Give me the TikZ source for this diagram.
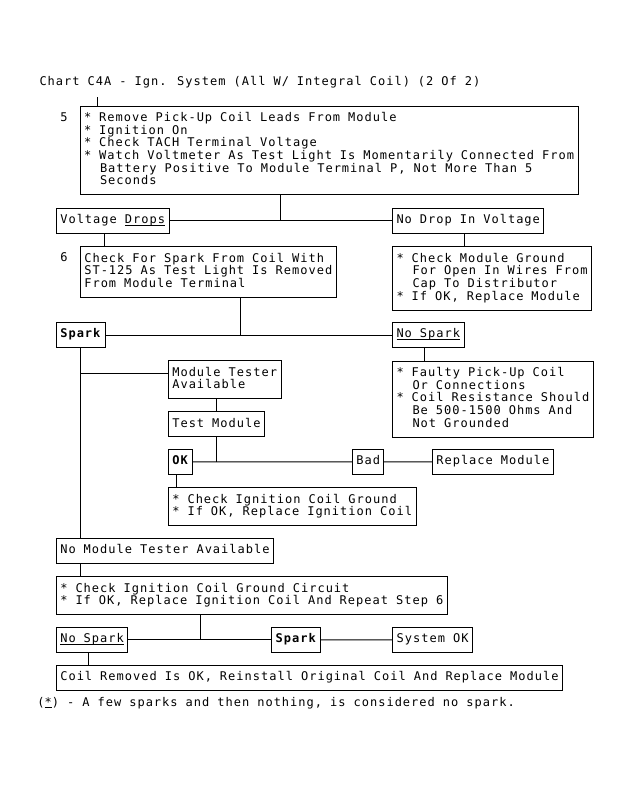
\documentclass[tikz,border=0pt]{standalone}
\usepackage{fontspec}
\newfontfamily\chartmono[LetterSpace=8.4]{DejaVu Sans Mono}
\newcommand{\chartfont}{\chartmono\fontsize{12}{12.7}\selectfont\spaceskip=8pt\relax}
\newcommand{\ind}{\hspace*{16pt}}
\newcommand{\chartul}[1]{\setbox0\hbox{#1}\rlap{\rule[-1.8pt]{\wd0}{0.8pt}}\box0}
\tikzset{box/.style={draw,rectangle,anchor=north west,align=left,inner xsep=4pt,inner ysep=6.15pt,outer sep=0pt,
  execute at begin node=\strut,execute at end node=\strut}}
\tikzset{lbl/.style={anchor=base west,inner sep=0pt}}
\begin{document}
\begin{tikzpicture}[x=1pt,y=-1pt,line width=1pt,font=\chartfont]
  \useasboundingbox (0,0) rectangle (631,785);
  \node[lbl] (title) at (39,85) {Chart C4A - Ign. System (All W/ Integral Coil) (2 Of 2)};
  \node[lbl,anchor=base] (n5) at (64,121) {5};
  \node[box] (box5) at (80,106) {* Remove Pick-Up Coil Leads From Module\\
    * Ignition On\\
    * Check TACH Terminal Voltage\\
    * Watch Voltmeter As Test Light Is Momentarily Connected From\\
    \ind Battery Positive To Module Terminal P, Not More Than 5\\
    \ind Seconds};
  \node[box] (vd) at (56.3,208.3) {Voltage \chartul{Drops}};
  \node[box] (nodrop) at (392.5,208.3) {No Drop In Voltage};
  \node[lbl,anchor=base] (n6) at (64,261.7) {6};
  \node[box] (box6) at (80.3,246.7) {Check For Spark From Coil With\\
    ST-125 As Test Light Is Removed\\
    From Module Terminal};
  \node[box] (modgnd) at (392.5,246.7) {* Check Module Ground\\
    \ind For Open In Wires From\\
    \ind Cap To Distributor\\
    * If OK, Replace Module};
  \node[box] (spark) at (56.3,322.7) {\textbf{Spark}};
  \node[box] (nospark) at (392.5,322.7) {\chartul{No Spark}};
  \node[box] (mt) at (168.3,360.7) {Module Tester\\Available};
  \node[box] (faulty) at (392.5,361) {* Faulty Pick-Up Coil\\
    \ind Or Connections\\
    * Coil Resistance Should\\
    \ind Be 500-1500 Ohms And\\
    \ind Not Grounded};
  \node[box] (tm) at (168.3,411.7) {Test Module};
  \node[box] (ok) at (168.3,449.3) {\textbf{OK}};
  \node[box] (bad) at (352.3,449.3) {Bad};
  \node[box] (repl) at (432.3,449.3) {Replace Module};
  \node[box] (chkign) at (168.3,487.7) {* Check Ignition Coil Ground\\
    * If OK, Replace Ignition Coil};
  \node[box] (nmt) at (56.3,538.3) {No Module Tester Available};
  \node[box] (chkcirc) at (56.3,576.7) {* Check Ignition Coil Ground Circuit\\
    * If OK, Replace Ignition Coil And Repeat Step 6};
  \node[box] (ns2) at (56.3,627.3) {\chartul{No Spark}};
  \node[box] (spark2) at (271.7,627.3) {\textbf{Spark}};
  \node[box] (sysok) at (392.7,627.3) {System OK};
  \node[box] (coilrem) at (56.3,665.3) {Coil Removed Is OK, Reinstall Original Coil And Replace Module};
  \node[lbl] (note) at (37,706) {(\chartul{*}) - A few sparks and then nothing, is considered no spark.};
  % drop points
  \coordinate (x5) at (97,97);
  \coordinate (x5b) at (280.7,0);
  \coordinate (xvd) at (104,0);
  \coordinate (xnd) at (464.3,0);
  \coordinate (x6) at (240.3,0);
  \coordinate (xns) at (424.3,0);
  \coordinate (ymt) at (0,373);
  \coordinate (xok) at (176.7,0);
  \coordinate (xcc) at (200.7,0);
  \coordinate (xn2) at (88.7,0);
  \draw (x5) -- (x5 |- box5.north);
  \draw (x5b |- box5.south) -- (x5b |- vd);
  \draw (vd) -- (nodrop);
  \draw (xvd |- vd.south) -- (xvd |- box6.north);
  \draw (xnd |- nodrop.south) -- (xnd |- modgnd.north);
  \draw (x6 |- box6.south) -- (x6 |- spark);
  \draw (spark) -- (nospark);
  \draw (xns |- nospark.south) -- (xns |- faulty.north);
  \draw (spark) -- (spark |- nmt.north);
  \draw (spark |- ymt) -- (mt.west |- ymt);
  \draw (tm) -- (tm |- mt.south);
  \draw (tm) -- (tm |- ok);
  \draw (ok) -- (bad);
  \draw (bad) -- (repl);
  \draw (xok |- ok.south) -- (xok |- chkign.north);
  \draw (spark |- nmt.south) -- (spark |- chkcirc.north);
  \draw (xcc |- chkcirc.south) -- (xcc |- ns2);
  \draw (ns2) -- (spark2);
  \draw (spark2) -- (sysok);
  \draw (xn2 |- ns2.south) -- (xn2 |- coilrem.north);
\end{tikzpicture}
\end{document}
